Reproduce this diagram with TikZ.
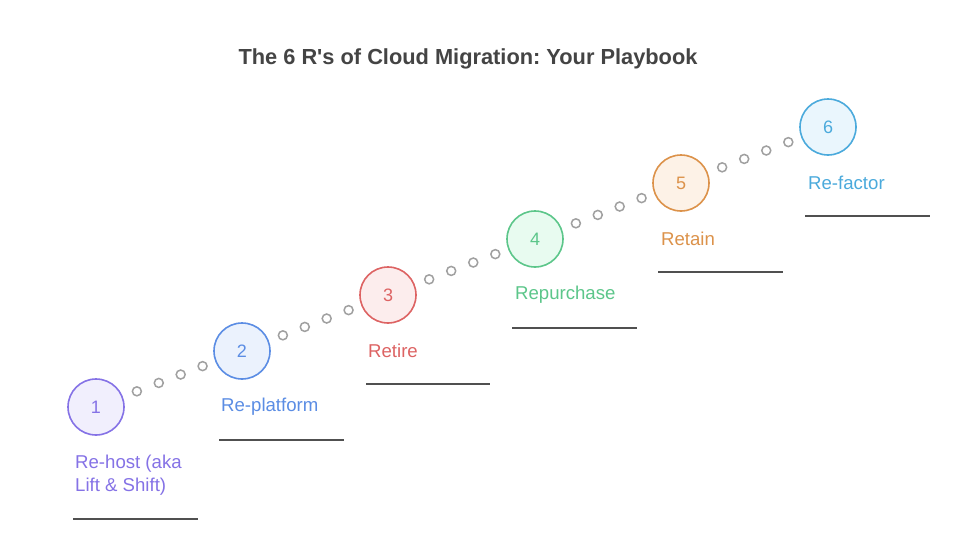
\documentclass[tikz,border=0pt]{standalone}
\usepackage{fontspec}
\setmainfont{Liberation Sans}
\newfontfamily\titlefont{Liberation Sans}
\usetikzlibrary{calc}
\frenchspacing
\definecolor{cA}{HTML}{8572E6}\definecolor{fA}{HTML}{F1EFFD}
\definecolor{cB}{HTML}{5B8DE4}\definecolor{fB}{HTML}{EBF2FD}
\definecolor{cC}{HTML}{DD6363}\definecolor{fC}{HTML}{FCEDED}
\definecolor{cD}{HTML}{5CC68A}\definecolor{fD}{HTML}{E8FBF0}
\definecolor{cE}{HTML}{DC924A}\definecolor{fE}{HTML}{FDF2E7}
\definecolor{cF}{HTML}{4BAADC}\definecolor{fF}{HTML}{EAF6FD}
\definecolor{dotc}{HTML}{A0A0A0}
\definecolor{linec}{HTML}{505050}
\definecolor{titlec}{HTML}{444444}
\tikzset{
  stepcircle/.style={circle,draw=#1,line width=1.6pt,minimum size=56pt,inner sep=0pt,text=#1,font=\fontsize{18}{20}\selectfont},
  steplabel/.style={anchor=west,inner sep=0pt,text=#1,font=\fontsize{18.6}{22.5}\selectfont,align=left},
  dotmark/.style={circle,draw=dotc,fill=white,line width=1.5pt,minimum size=9pt,inner sep=0pt},
  baseline/.style={draw=linec,line width=1.8pt}
}
\begin{document}
\begin{tikzpicture}[x=1pt,y=-1pt]
\useasboundingbox[fill=white] (0,0) rectangle (971,552);
\node[font=\titlefont\bfseries\fontsize{21.8}{24}\selectfont,text=titlec] (title) at (468,59) {The 6 R's of Cloud Migration: Your Playbook};
% circles
\node[stepcircle=cA,fill=fA] (s1) at (96,407) {1};
\node[stepcircle=cB,fill=fB] (s2) at (242,351) {2};
\node[stepcircle=cC,fill=fC] (s3) at (388,295) {3};
\node[stepcircle=cD,fill=fD] (s4) at (535,239) {4};
\node[stepcircle=cE,fill=fE] (s5) at (681,183) {5};
\node[stepcircle=cF,fill=fF] (s6) at (828,127) {6};
% dots
\foreach \a/\b in {s1/s2,s2/s3,s3/s4,s4/s5,s5/s6}{
  \foreach \t [count=\i] in {0.28,0.43,0.58,0.73}{
    \node[dotmark] (d\a\i) at ($(\a)!\t!(\b)$) {};
  }
}
% labels
\node[steplabel=cA] (l1) at (75,475) {Re-host (aka\\Lift \& Shift)};
\node[steplabel=cB] (l2) at (221,407) {Re-platform};
\node[steplabel=cC] (l3) at (368,351) {Retire};
\node[steplabel=cD] (l4) at (515,295) {Repurchase};
\node[steplabel=cE] (l5) at (661,239) {Retain};
\node[steplabel=cF] (l6) at (808,183) {Re-factor};
% underlines
\coordinate (u1a) at (73,519); \coordinate (u1b) at (198,519);
\coordinate (u2a) at (219,440); \coordinate (u2b) at (344,440);
\coordinate (u3a) at (366,384); \coordinate (u3b) at (490,384);
\coordinate (u4a) at (512,328); \coordinate (u4b) at (637,328);
\coordinate (u5a) at (658,272); \coordinate (u5b) at (783,272);
\coordinate (u6a) at (805,216); \coordinate (u6b) at (930,216);
\foreach \i in {1,...,6}{\draw[baseline] (u\i a) -- (u\i b);}
\end{tikzpicture}
\end{document}
